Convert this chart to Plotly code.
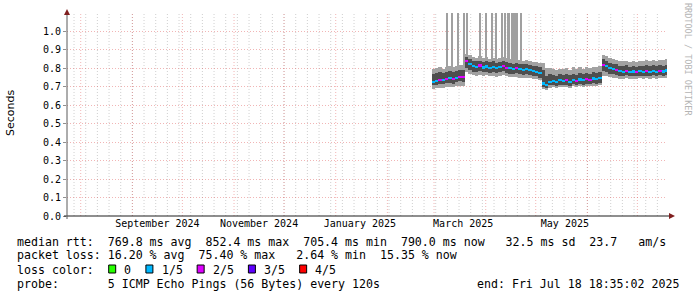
import plotly.graph_objects as go
import pandas as pd
import numpy as np

# ---------------- data (RTT in ms, one sample every 2 days) ----------------
first_sample = "2025-02-28 12:00"
rtt_median = [726, 733, 738, 735, 742, 746, 741, 748, 755, 752,
              838, 822, 812, 808, 815, 805, 810, 803, 808, 800, 806, 812, 804, 800, 797, 802, 795, 792, 796, 790, 786, 782, 776,
              718, 708,
              728, 732, 726, 735, 730, 736, 728, 738, 733, 740, 735, 742, 738, 745, 742, 748,
              818, 812, 800, 796, 792, 785, 782, 786, 780, 783, 779, 784, 780, 785, 781, 786, 782, 787, 783, 788]
rtt_min = [690, 692, 695, 693, 698, 700, 697, 702, 706, 704,
           780, 770, 762, 760, 765, 758, 762, 756, 760, 755, 758, 762, 757, 754, 752, 755, 750, 748, 750, 746, 744, 740, 735,
           690, 682,
           696, 698, 694, 700, 697, 700, 695, 702, 698, 703, 700, 705, 702, 706, 704, 708,
           760, 758, 752, 750, 748, 745, 744, 746, 743, 745, 742, 746, 743, 747, 744, 748, 745, 748, 746, 750]
rtt_low = [708, 712, 716, 714, 720, 722, 718, 726, 730, 728,
           800, 790, 782, 780, 786, 778, 782, 776, 780, 774, 778, 784, 776, 772, 770, 774, 768, 766, 768, 764, 760, 756, 750,
           700, 692,
           708, 710, 706, 712, 708, 712, 706, 714, 710, 716, 712, 718, 714, 720, 718, 722,
           785, 780, 772, 770, 766, 760, 758, 762, 757, 759, 756, 760, 757, 761, 758, 762, 758, 763, 760, 764]
rtt_high = [770, 775, 778, 776, 782, 785, 780, 788, 792, 790,
            862, 850, 840, 838, 842, 835, 840, 832, 838, 830, 836, 842, 834, 830, 826, 830, 824, 822, 825, 818, 815, 812, 808,
            790, 760,
            770, 765, 760, 768, 764, 770, 762, 772, 766, 774, 768, 776, 772, 778, 775, 782,
            850, 842, 830, 826, 822, 815, 812, 816, 810, 814, 810, 815, 811, 816, 812, 817, 813, 818, 814, 820]
rtt_max = [795, 800, 805, 798, 810, 812, 806, 815, 820, 818,
           880, 872, 862, 858, 865, 855, 860, 852, 858, 850, 856, 862, 854, 850, 846, 850, 845, 842, 845, 838, 835, 832, 828,
           830, 800,
           800, 795, 790, 798, 794, 800, 792, 805, 796, 806, 798, 808, 802, 810, 806, 815,
           875, 868, 855, 850, 846, 840, 838, 842, 836, 840, 835, 842, 838, 845, 840, 846, 842, 848, 843, 850]
loss_count = [1, 1, 2, 1, 2, 1, 2, 1, 2, 2,
              2, 1, 1, 1, 2, 1, 1, 1, 1, 1, 1, 2, 2, 1, 1, 2, 1, 1, 1, 1, 1, 1, 1,
              1, 1,
              1, 1, 1, 1, 1, 2, 1, 1, 2, 1, 1, 2, 2, 1, 1, 1,
              2, 1, 1, 1, 2, 1, 1, 2, 1, 1, 2, 1, 1, 2, 1, 1, 1, 2, 1, 1]

# single pings far above the scale (ms)
spike_times = ["2025-03-08 14:00", "2025-03-11 14:00", "2025-03-15 14:00", "2025-03-19 04:00",
               "2025-03-20 14:00", "2025-03-28 14:00", "2025-04-01 04:00", "2025-04-04 14:00",
               "2025-04-07 04:00", "2025-04-10 23:00", "2025-04-12 14:00", "2025-04-14 04:00",
               "2025-04-14 23:00", "2025-04-16 23:00", "2025-04-17 18:00", "2025-04-18 08:00",
               "2025-04-18 22:00", "2025-04-19 12:00", "2025-04-20 02:00", "2025-04-21 23:00"]
spike_rtt = [1420, 1650, 1310, 1880, 1540, 1370, 1720, 1460, 1590, 1330,
             1810, 1490, 1620, 1380, 1700, 1750, 1680, 1560, 1640, 1410]

loss_labels = ["0", "1/5", "2/5", "3/5", "4/5"]
loss_colors = ["#26ff00", "#00b8ff", "#dd00ff", "#5e00ff", "#ff0000"]

y_tick_values = [0.0, 0.1, 0.2, 0.3, 0.4, 0.5, 0.6, 0.7, 0.8, 0.9, 1.0]
x_tick_dates = ["2024-09-16", "2024-11-16", "2025-01-15 12:00", "2025-03-18 12:00", "2025-05-18 12:00"]
x_tick_labels = ["September 2024", "November 2024", "January 2025", "March 2025", "May 2025"]

stats_line1 = "median rtt:  769.8 ms avg  852.4 ms max  705.4 ms min  790.0 ms now   32.5 ms sd  23.7   am/s"
stats_line2 = "packet loss: 16.20 % avg  75.40 % max   2.64 % min  15.35 % now"
probe_line = "probe:       5 ICMP Echo Pings (56 Bytes) every 120s"
end_line = "end: Fri Jul 18 18:35:02 2025"

END = pd.Timestamp("2025-07-18 18:35:02")
START = END - pd.Timedelta(days=360)

# ---------------- build ----------------
n = len(rtt_median)
dates = pd.date_range(first_sample, periods=n, freq="2D")
s = lambda a: np.array(a, dtype=float) / 1000.0
med, mn, lo, hi, mx = s(rtt_median), s(rtt_min), s(rtt_low), s(rtt_high), s(rtt_max)
DAY = 86400000
W = 2 * DAY

fig = go.Figure()

# spikes
sp_t = pd.to_datetime(spike_times)
idx = pd.DatetimeIndex(dates).get_indexer(sp_t, method="nearest")
sp_base = hi[idx]
fig.add_trace(go.Bar(x=sp_t, y=s(spike_rtt) - sp_base, base=sp_base, width=0.55 * DAY,
                     marker=dict(color="#a0a0a0", line=dict(width=0)), hoverinfo="skip"))
# outer smoke
fig.add_trace(go.Bar(x=dates, y=mx - mn, base=mn, width=W,
                     marker=dict(color="#a2a2a2", line=dict(width=0)), hoverinfo="skip"))
# inner smoke
fig.add_trace(go.Bar(x=dates, y=hi - lo, base=lo, width=W,
                     marker=dict(color="#4e4e4e", line=dict(width=0)), hoverinfo="skip"))
# median coloured by loss
mh = 0.012
fig.add_trace(go.Bar(x=dates, y=[mh] * n, base=med - mh / 2, width=W,
                     marker=dict(color=[loss_colors[k] for k in loss_count], line=dict(width=0)),
                     hoverinfo="skip"))

L, R, T, B = 67, 30, 13, 81
PW, PH = 697 - L - R, 297 - T - B
px = lambda x: (x - L) / PW
py = lambda y: (297 - B - y) / PH

MAJOR = "rgba(222,79,79,0.42)"
MINOR = "rgba(143,143,143,0.42)"

shapes = []
# weekly minor grid (Sundays) and monthly major grid
for d in pd.date_range("2024-07-28", END, freq="7D"):
    shapes.append(dict(type="line", xref="x", yref="paper", x0=d, x1=d, y0=0, y1=1, layer="below",
                       line=dict(color=MINOR, width=1, dash="1px,2px")))
for d in pd.date_range("2024-08-01", END, freq="MS"):
    shapes.append(dict(type="line", xref="x", yref="paper", x0=d, x1=d, y0=0, y1=1, layer="below",
                       line=dict(color=MAJOR, width=1, dash="1px,2px")))
# axis lines
shapes.append(dict(type="line", xref="paper", yref="paper", x0=px(64), x1=px(671), y0=0, y1=0,
                   line=dict(color="#1f1f1f", width=1)))
shapes.append(dict(type="line", xref="paper", yref="paper", x0=0, x1=0, y0=py(219), y1=py(12),
                   line=dict(color="#5a5a5a", width=1)))
# arrows
shapes.append(dict(type="path", xref="paper", yref="paper", fillcolor="#801f1f", line=dict(width=0),
                   path=f"M {px(669)},{py(213)} L {px(675)},{py(216)} L {px(669)},{py(219)} Z"))
shapes.append(dict(type="path", xref="paper", yref="paper", fillcolor="#801f1f", line=dict(width=0),
                   path=f"M {px(64)},{py(15)} L {px(67)},{py(9)} L {px(70)},{py(15)} Z"))

mono = "DejaVu Sans Mono"
fs = 11.6
cw = 7.02
ann = []
def text(x, y, t, anchor="left", size=fs, family=mono, color="#000000", angle=0):
    ann.append(dict(x=px(x), y=py(y), xref="paper", yref="paper", text=t, showarrow=False,
                    xanchor=anchor, yanchor="middle", textangle=angle, borderpad=0,
                    font=dict(family=family, size=size, color=color)))

text(16, 241.5, stats_line1.replace(" ", "&nbsp;"))
text(16, 255.5, stats_line2.replace(" ", "&nbsp;"))
text(16, 269.5, "loss&nbsp;color:")
text(16, 283.5, probe_line.replace(" ", "&nbsp;"))
text(680, 283.5, end_line.replace(" ", "&nbsp;"), anchor="right")

bx = 108.7
for lab, col in zip(loss_labels, loss_colors):
    shapes.append(dict(type="rect", xref="paper", yref="paper", x0=px(bx), x1=px(bx + 7), y0=py(273), y1=py(265),
                       fillcolor=col, line=dict(color="#000000", width=1)))
    lx = bx + 2.1 * cw
    text(lx, 269.5, lab)
    bx = lx + len(lab) * cw + 2.2 * cw

text(11, 113, "Seconds", anchor="center", size=11, family="DejaVu Sans", angle=-90)
text(688, 59, "RRDTOOL&nbsp;/&nbsp;TOBI&nbsp;OETIKER", anchor="center", size=8.5, color="#b4b4b4", angle=90)

fig.update_layout(
    width=697, height=297,
    margin=dict(l=L, r=R, t=T, b=B, pad=0),
    paper_bgcolor="white", plot_bgcolor="white",
    barmode="overlay", bargap=0, showlegend=False,
    font=dict(family=mono, size=10, color="#000000"),
    xaxis=dict(type="date", range=[START, END], tickmode="array", tickvals=x_tick_dates,
               ticktext=x_tick_labels, showgrid=False, zeroline=False, showline=False, ticks="",
               tickfont=dict(family=mono, size=10), fixedrange=True),
    yaxis=dict(range=[0, 1.1], tickmode="array", tickvals=y_tick_values,
               ticktext=[f"{v:.1f}" for v in y_tick_values],
               showgrid=True, gridcolor=MAJOR, griddash="1px,2px", gridwidth=1,
               zeroline=False, showline=False, ticks="outside", ticklen=3, tickcolor="#8f8f8f",
               tickfont=dict(family=mono, size=10), fixedrange=True),
    shapes=shapes, annotations=ann,
)

fig.write_html("out.html")
